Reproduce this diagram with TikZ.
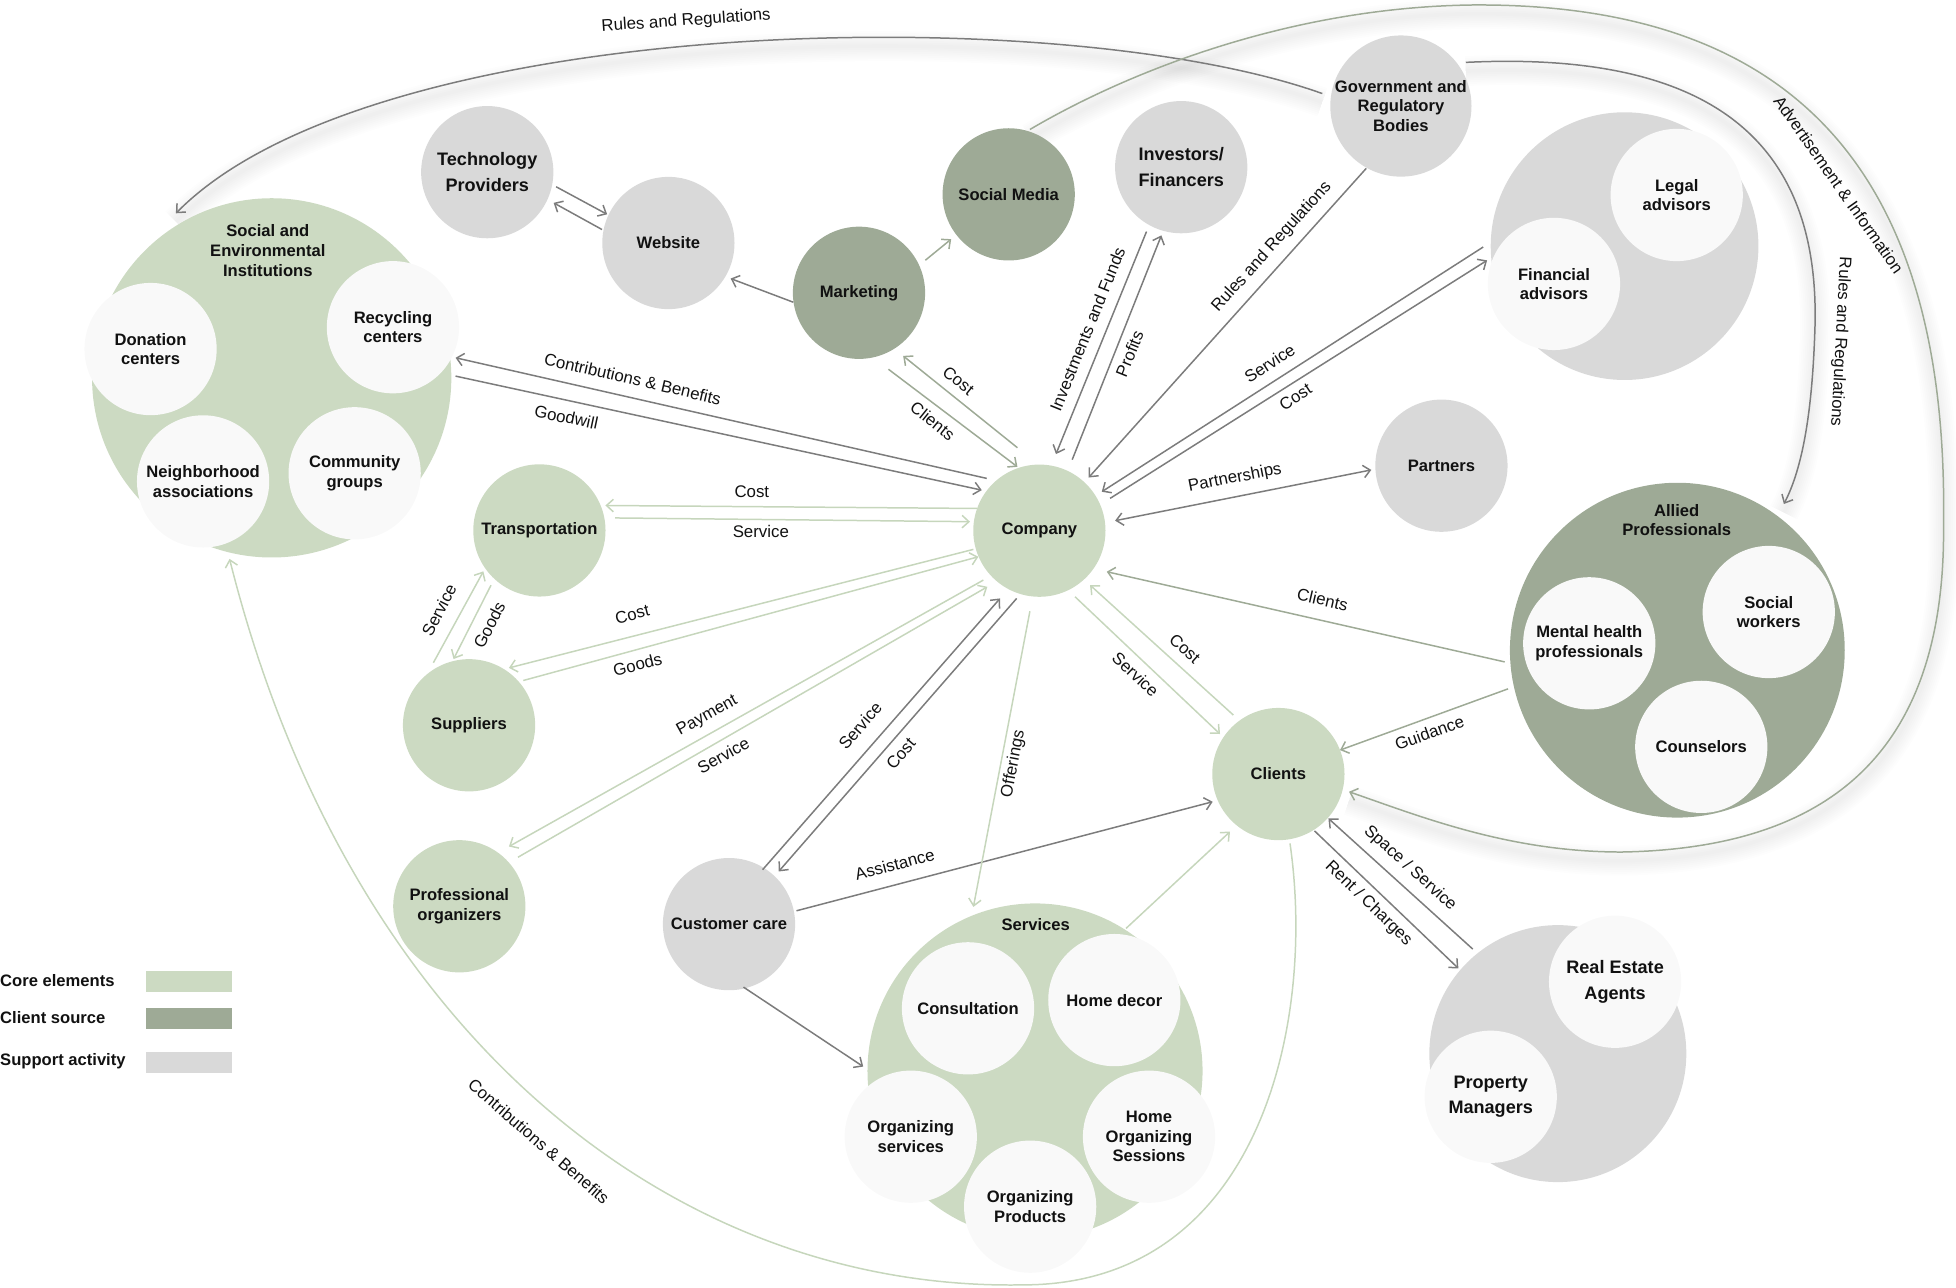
\documentclass[tikz,border=0pt]{standalone}
\usepackage{fontspec}
\setmainfont{Liberation Sans}
\usetikzlibrary{arrows.meta,calc}
\definecolor{corefill}{HTML}{CCDAC2}
\definecolor{clientfill}{HTML}{9EAA96}
\definecolor{supportfill}{HTML}{D9D9D9}
\definecolor{innerfill}{HTML}{F9F9F9}
\definecolor{grayline}{HTML}{7C7C7C}
\definecolor{greenline}{HTML}{C6D6BC}
\definecolor{midline}{HTML}{9EAA96}
\definecolor{ink}{HTML}{111111}
\pgfdeclarelayer{background}
\pgfsetlayers{background,main}
\begin{document}
\begin{tikzpicture}[x=1pt,y=-1pt,
  blob/.style={circle,inner sep=0pt,minimum size=106pt,align=center,text=ink,font=\bfseries\fontsize{13.3}{15.7}\selectfont},
  corec/.style={blob,fill=corefill},
  csrc/.style={blob,fill=clientfill},
  supc/.style={blob,fill=supportfill},
  innerc/.style={blob,fill=innerfill},
  bigtext/.style={font=\bfseries\fontsize{14.5}{20.5}\selectfont},
  grp/.style={circle,inner sep=0pt},
  ttl/.style={inner sep=0pt,align=center,text=ink,font=\bfseries\fontsize{13.3}{15.7}\selectfont},
  lbl/.style={inner sep=0pt,text=ink,font=\fontsize{13.5}{16}\selectfont},
  ln/.style={line width=1.2pt},
  arr/.style={-{Straight Barb[length=5.5pt,width=10pt]}},
  dbl/.style={{Straight Barb[length=5.5pt,width=10pt]}-{Straight Barb[length=5.5pt,width=10pt]}},
  gl/.style={ln,draw=grayline},
  cl/.style={ln,draw=greenline},
  ml/.style={ln,draw=midline},
  softshadow/.style={draw=black,draw opacity=0.006,line width=#1,transform canvas={yshift=-7pt}},
  leg/.style={anchor=west,inner sep=0pt,text=ink,font=\bfseries\fontsize{13.3}{16}\selectfont},
  legbox/.style={inner sep=0pt,minimum width=69pt,minimum height=17pt}
]
\useasboundingbox (0,0) rectangle (1568,1031.7);

% ---------- group circles ----------
\node[grp,fill=corefill,minimum size=288pt] (se) at (217.8,302.9) {};
\node[innerc] (don) at (120.7,279.8) {Donation\\centers};
\node[innerc] (rec) at (315,262.3) {Recycling\\centers};
\node[innerc] (nei) at (162.8,385.9) {Neighborhood\\associations};
\node[innerc] (com) at (284.3,379.4) {Community\\groups};
\node[ttl] (setitle) at (214.7,200.9) {Social and\\Environmental\\Institutions};

\node[grp,fill=supportfill,minimum size=214.6pt] (fl) at (1302.3,197.3) {};
\node[innerc] (legal) at (1344.1,156.3) {Legal\\advisors};
\node[innerc] (fin) at (1245.7,227.6) {Financial\\advisors};

\node[grp,fill=clientfill,minimum size=268.4pt] (ap) at (1344.6,521.2) {};
\node[innerc] (mh) at (1274,515.7) {Mental health\\professionals};
\node[innerc] (sw) at (1417.9,490.6) {Social\\workers};
\node[innerc] (couns) at (1363.8,598.7) {Counselors};
\node[ttl] (aptitle) at (1344.1,417) {Allied\\Professionals};

\node[grp,fill=corefill,minimum size=268.6pt] (sv) at (829.7,858.5) {};
\node[innerc] (cons) at (776,808.3) {Consultation};
\node[innerc] (hdec) at (893.3,801.7) {Home decor};
\node[innerc] (orgs) at (730.1,911.2) {Organizing\\services};
\node[innerc] (hos) at (921.1,911.2) {Home\\Organizing\\Sessions};
\node[innerc] (orgp) at (825.8,967.3) {Organizing\\Products};
\node[ttl] (svtitle) at (830.3,741.5) {Services};

\node[grp,fill=supportfill,minimum size=206pt] (re) at (1248.8,844.6) {};
\node[innerc,bigtext] (rea) at (1294.7,787) {Real Estate\\Agents};
\node[innerc,bigtext] (pm) at (1195,879.2) {Property\\Managers};

% ---------- single nodes ----------
\node[supc,bigtext] (tech) at (390.6,138) {Technology\\Providers};
\node[supc] (web) at (535.8,194.8) {Website};
\node[csrc] (mkt) at (688.6,234.7) {Marketing};
\node[csrc] (sm) at (808.6,155.8) {Social Media};
\node[supc,bigtext] (inv) at (946.9,134) {Investors/\\Financers};
\node[supc] (gov) at (1123,85) {Government and\\Regulatory\\Bodies};
\node[supc] (partners) at (1155.5,373.3) {Partners};
\node[corec] (company) at (833.2,425.4) {Company};
\node[corec] (trans) at (432.4,425.2) {Transportation};
\node[corec] (sup) at (376,581.4) {Suppliers};
\node[corec] (prof) at (368.2,726.5) {Professional\\organizers};
\node[supc] (cc) at (584.4,740.8) {Customer care};
\node[corec] (clients) at (1024.8,620.5) {Clients};

% ---------- soft shadows of the long curves ----------
\begin{pgfonlayer}{background}
\foreach \w in {3pt,6pt,9pt,12pt,15pt,18pt,21pt,24pt}{
  \path[softshadow=\w] ($(gov)+(-63,-10)$) .. controls (850,0) and (300,10) .. ($(se)+(-76.8,-131.9)$);
  \path[softshadow=\w] ($(gov)+(52,-35)$) .. controls (1380,40) and (1458,120) .. (1455,260)
      .. controls (1453,330) and (1445,375) .. ($(ap)+(85.4,-117.2)$);
  \path[softshadow=\w] ($(sm)+(17,-52)$) .. controls (900,60) and (1030,6) .. (1180,4)
      .. controls (1440,2) and (1562,140) .. (1558,420)
      .. controls (1560,600) and (1470,680) .. (1300,683)
      .. controls (1210,683) and (1140,655) .. ($(clients)+(56.6,14.2)$);
}
\end{pgfonlayer}

% ---------- gray connectors ----------
\draw[gl,arr] ($(tech)+(55.2,11.7)$) -- ($(web)+(-49.1,-23)$);
\draw[gl,arr] ($(web)+(-53.2,-10.8)$) -- ($(tech)+(53.2,24.6)$);
\draw[gl,arr] ($(mkt)+(-52.6,7.6)$) -- ($(web)+(49.9,28.5)$);
\draw[gl,arr] ($(inv)+(-27.8,51.6)$) -- ($(company)+(13.3,-61.4)$);
\draw[gl,arr] ($(company)+(26.3,-56.9)$) -- ($(inv)+(-15.9,54.7)$);
\draw[gl,arr] ($(gov)+(-27.8,50)$) -- ($(company)+(39.5,-42.6)$);
\draw[gl,arr] ($(fin)+(-56.7,-29.6)$) -- ($(company)+(50,-31.2)$);
\draw[gl,arr] ($(company)+(56.7,-25.9)$) -- ($(fin)+(-53.6,-18.9)$);
\draw[gl,dbl] ($(company)+(60.7,-8)$) -- ($(partners)+(-56.2,3.4)$);
\draw[gl,arr] ($(cc)+(26.9,-43.6)$) -- ($(company)+(-31.5,54.3)$);
\draw[gl,arr] ($(company)+(-18.2,54.3)$) -- ($(cc)+(39.8,-42.2)$);
\draw[gl,arr] ($(cc)+(54.1,-10.7)$) -- ($(clients)+(-52.7,22.2)$);
\draw[gl,arr] ($(cc)+(11.6,50.5)$) -- ($(sv)+(-137.7,-3.5)$);
\draw[gl,arr] ($(re)+(-68.2,-83.8)$) -- ($(clients)+(40.1,35.6)$);
\draw[gl,arr] ($(clients)+(28.9,45.5)$) -- ($(re)+(-79.7,-68.3)$);
\draw[gl,arr] ($(company)+(-42.2,-41.9)$) -- ($(se)+(147.4,-16.1)$);
\draw[gl,arr] ($(se)+(147.4,-1.4)$) -- ($(company)+(-46.2,-32.5)$);
\draw[gl,arr] ($(gov)+(-63,-10)$) .. controls (850,0) and (300,10) .. ($(se)+(-76.8,-131.9)$);
\draw[gl,arr] ($(gov)+(52,-35)$) .. controls (1380,40) and (1458,120) .. (1455,260)
      .. controls (1453,330) and (1445,375) .. ($(ap)+(85.4,-117.2)$);

% ---------- core (light green) connectors ----------
\draw[cl,arr] ($(company)+(-50.2,-17.8)$) -- ($(trans)+(52.9,-20)$);
\draw[cl,arr] ($(trans)+(60.7,-10)$) -- ($(company)+(-55.6,-7.2)$);
\draw[cl,arr] ($(sup)+(-28.6,-50.1)$) -- ($(trans)+(-44.9,32.8)$);
\draw[cl,arr] ($(trans)+(-38.8,43.9)$) -- ($(sup)+(-12.4,-53.1)$);
\draw[cl,arr] ($(company)+(-52.9,15)$) -- ($(sup)+(32,-46)$);
\draw[cl,arr] ($(sup)+(43.5,-35.9)$) -- ($(company)+(-48.9,20.9)$);
\draw[cl,arr] ($(company)+(-44.9,39.6)$) -- ($(prof)+(39.8,-47.9)$);
\draw[cl,arr] ($(prof)+(47,-39.3)$) -- ($(company)+(-41.7,45)$);
\draw[cl,arr] ($(company)+(28.6,53)$) -- ($(clients)+(-46.8,-32.1)$);
\draw[cl,arr] ($(clients)+(-36.1,-47.3)$) -- ($(company)+(40.6,43.6)$);
\draw[cl,arr] ($(company)+(-7.6,64.6)$) -- ($(sv)+(-49.4,-131.5)$);
\draw[cl,arr] ($(sv)+(73,-114.3)$) -- ($(clients)+(-38.8,46.2)$);
\draw[cl,arr] ($(clients)+(9.3,55.6)$) .. controls (1055,820) and (1010,1030) .. (820,1030)
      .. controls (540,1035) and (280,830) .. ($(se)+(-33.8,145.1)$);

% ---------- client source connectors ----------
\draw[ml,arr] ($(mkt)+(53.2,-26.1)$) -- ($(sm)+(-46.1,35.9)$);
\draw[ml,arr] ($(company)+(-17.6,-66.5)$) -- ($(mkt)+(35.4,50.6)$);
\draw[ml,arr] ($(mkt)+(23.6,61.3)$) -- ($(company)+(-17.6,-51.2)$);
\draw[ml,arr] ($(ap)+(-138.4,9.4)$) -- ($(company)+(54,32.9)$);
\draw[ml,arr] ($(ap)+(-135.7,31)$) -- ($(clients)+(49.4,-19.2)$);
\draw[ml,arr] ($(sm)+(17,-52)$) .. controls (900,60) and (1030,6) .. (1180,4)
      .. controls (1440,2) and (1562,140) .. (1558,420)
      .. controls (1560,600) and (1470,680) .. (1300,683)
      .. controls (1210,683) and (1140,655) .. ($(clients)+(56.6,14.2)$);

% ---------- connector labels ----------
\node[lbl,rotate=4] (t1) at (550,17) {Rules and Regulations};
\node[lbl,rotate=-13] (t2) at (507.2,303.7) {Contributions \& Benefits};
\node[lbl,rotate=-12] (t3) at (454,334.4) {Goodwill};
\node[lbl,rotate=-39] (t4) at (768.4,305.2) {Cost};
\node[lbl,rotate=-39] (t5) at (747.7,337.4) {Clients};
\node[lbl,rotate=68] (t6) at (871.8,263.8) {Investments and Funds};
\node[lbl,rotate=68] (t7) at (905.5,283.7) {Profits};
\node[lbl,rotate=48] (t8) at (1019.5,197.9) {Rules and Regulations};
\node[lbl,rotate=33] (t9) at (1017.8,291.4) {Service};
\node[lbl,rotate=33] (t10) at (1038.5,318.1) {Cost};
\node[lbl,rotate=11] (t11) at (990,383.4) {Partnerships};
\node[lbl,rotate=-13] (t12) at (1060.2,480.5) {Clients};
\node[lbl,rotate=20] (t13) at (1145.9,587.4) {Guidance};
\node[lbl,rotate=-42] (t14) at (949.9,520) {Cost};
\node[lbl,rotate=-43] (t15) at (910.3,540.7) {Service};
\node[lbl,rotate=79] (t16) at (812.5,612.3) {Offerings};
\node[lbl,rotate=-42] (t17) at (1130.3,696.1) {Space / Service};
\node[lbl,rotate=-44] (t18) at (1097,724.2) {Rent / Charges};
\node[lbl,rotate=15] (t19) at (717.2,692.9) {Assistance};
\node[lbl,rotate=49] (t20) at (689.5,581.8) {Service};
\node[lbl,rotate=49] (t21) at (722.1,604.1) {Cost};
\node[lbl,rotate=29] (t22) at (567,574) {Payment};
\node[lbl,rotate=29] (t23) at (579.8,605.6) {Service};
\node[lbl,rotate=14] (t24) at (506.8,492.5) {Cost};
\node[lbl,rotate=14] (t25) at (511.1,532.6) {Goods};
\node[lbl] (t26) at (602.7,394.3) {Cost};
\node[lbl] (t27) at (609.9,426.1) {Service};
\node[lbl,rotate=63] (t28) at (352,489.1) {Service};
\node[lbl,rotate=63] (t29) at (392.3,501) {Goods};
\node[lbl,rotate=-41] (t30) at (432,915) {Contributions \& Benefits};
\node[lbl,rotate=-55] (t31) at (1474,148) {Advertisement \& Information};
\node[lbl,rotate=-93] (t32) at (1475,274) {Rules and Regulations};

% ---------- legend ----------
\node[leg] (lg1) at (0,785.7) {Core elements};
\node[leg] (lg2) at (0,815.8) {Client source};
\node[leg] (lg3) at (0,850.9) {Support activity};
\node[legbox,fill=corefill] (lb1) at (151.85,786.6) {};
\node[legbox,fill=clientfill] (lb2) at (151.85,816.75) {};
\node[legbox,fill=supportfill] (lb3) at (151.85,851.6) {};
\end{tikzpicture}
\end{document}
